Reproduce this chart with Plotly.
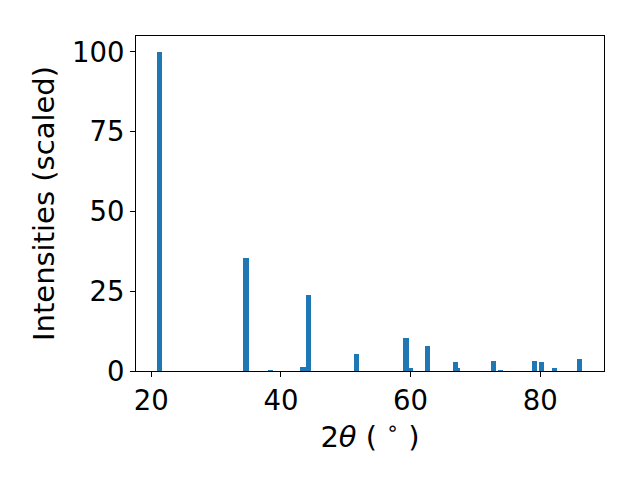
import plotly.graph_objects as go

two_theta = [21.3, 34.6, 38.35, 43.4, 44.3, 51.7, 59.3, 60.0, 62.6, 66.95, 67.3, 72.8, 73.9, 79.1, 80.2, 82.2, 86.1]
intensity = [100.0, 35.5, 0.3, 1.2, 23.8, 5.2, 10.4, 0.9, 7.8, 2.8, 0.9, 3.1, 0.3, 3.1, 2.8, 0.9, 3.7]
bar_width = 0.8

x_ticks = [20, 40, 60, 80]
y_ticks = [0, 25, 50, 75, 100]

FONT = "DejaVu Sans"
FS = 27.5
FS_TITLE = 29

fig = go.Figure()
fig.add_trace(go.Bar(
    x=two_theta, y=intensity, width=[bar_width] * len(two_theta),
    marker=dict(color="#1f77b4", line=dict(width=0)),
))

axis_common = dict(
    showline=True, linecolor="black", linewidth=1.07, mirror=True,
    ticks="outside", ticklen=5, tickwidth=1.07, tickcolor="black",
    showgrid=False, zeroline=False,
    tickfont=dict(family=FONT, size=FS, color="black"),
)

fig.update_layout(
    width=640, height=480,
    margin=dict(l=136, r=36, t=36, b=109),
    paper_bgcolor="white", plot_bgcolor="white",
    showlegend=False, bargap=0,
    xaxis=dict(range=[17.64, 89.85], tickvals=x_ticks,
               title=dict(text="2<i>θ</i> ( <sup>∘</sup> )", font=dict(family=FONT, size=FS_TITLE, color="black"), standoff=2),
               **axis_common),
    yaxis=dict(range=[0, 105], tickvals=y_ticks,
               title=dict(text="Intensities (scaled)", font=dict(family=FONT, size=FS_TITLE, color="black"), standoff=8),
               **axis_common),
)

fig.write_html("out.html", config={"displayModeBar": False},
               post_script="document.body.style.margin='0';document.body.style.overflow='hidden';")
